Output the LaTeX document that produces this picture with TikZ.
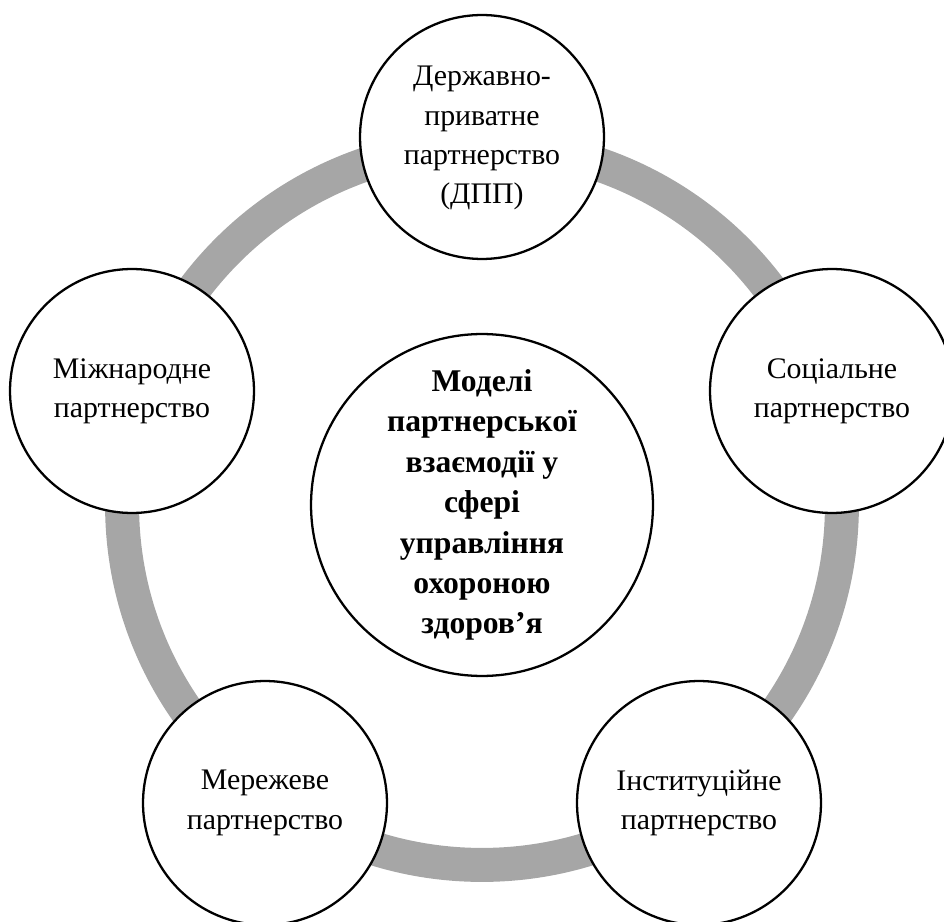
\documentclass[tikz,border=0pt]{standalone}
\usepackage{fontspec}
\setmainfont{Liberation Serif}
\definecolor{ringgray}{HTML}{A6A6A6}
\begin{document}
\begin{tikzpicture}[x=0.02cm,y=-0.02cm,
  outer/.style={circle,draw=black,line width=1.3pt,fill=white,minimum size=4.88cm,inner sep=0pt,align=center,font=\fontsize{17}{22.4}\selectfont},
  inner/.style={circle,draw=black,line width=1.3pt,fill=white,minimum size=6.84cm,inner sep=0pt,align=center,font=\fontsize{18}{23}\selectfont\bfseries}]
\useasboundingbox (0,0) rectangle (944,922);
\coordinate (o) at (482,505);
\draw[ringgray,line width=0.68cm] (o) circle (7.2cm);
\node[inner] (c) at (o) {Моделі\\партнерської\\взаємодії у\\сфері\\управління\\охороною\\здоров’я};
\node[outer] (n1) at (482,137) {\raisebox{-6pt}{\begin{tabular}{@{}c@{}}Державно-\\приватне\\партнерство\\(ДПП)\end{tabular}}};
\node[outer] (n2) at (832,391) {Соціальне\\партнерство};
\node[outer] (n3) at (699,803) {Інституційне\\партнерство};
\node[outer] (n4) at (265,803) {Мережеве\\партнерство};
\node[outer] (n5) at (132,391) {Міжнародне\\партнерство};
\end{tikzpicture}
\end{document}
